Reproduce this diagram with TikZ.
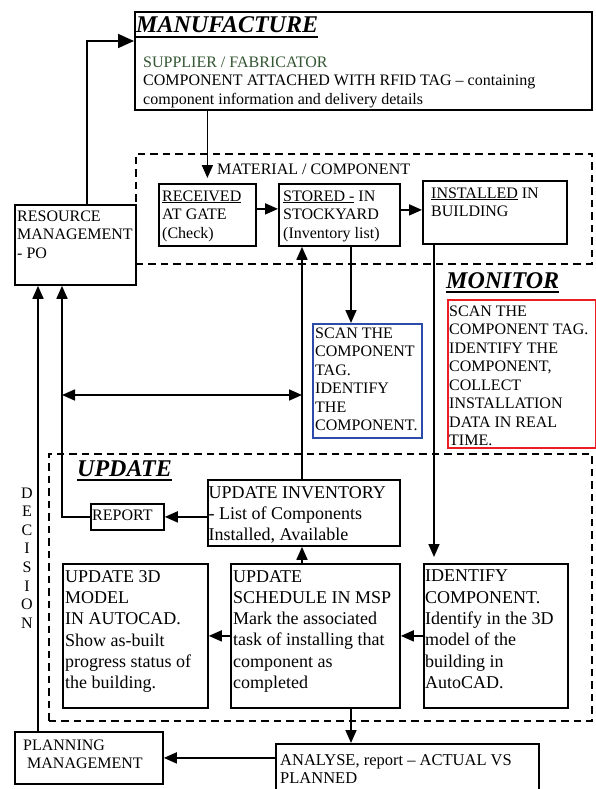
\documentclass[tikz,border=0pt]{standalone}
\usepackage{fontspec}
\setmainfont{Liberation Serif}
\usetikzlibrary{arrows.meta,calc}
\newcommand{\fsA}{\fontsize{16}{18.5}\selectfont}
\newcommand{\fsB}{\fontsize{18}{21.3}\selectfont}
\newcommand{\fsC}{\fontsize{16.5}{18}\selectfont}
\newcommand{\fsT}{\fontsize{24}{28}\selectfont\bfseries\itshape}
\newsavebox{\ulbx}
\newcommand{\ulthin}[1]{\sbox{\ulbx}{#1}\rlap{\rule[-2pt]{\wd\ulbx}{0.9pt}}\usebox{\ulbx}}
\newcommand{\ulthick}[1]{\sbox{\ulbx}{#1}\rlap{\rule[-5pt]{\wd\ulbx}{2.2pt}}\usebox{\ulbx}}
\definecolor{sgreen}{RGB}{50,85,50}
\definecolor{mred}{RGB}{235,30,35}
\definecolor{mblue}{RGB}{45,75,170}
\begin{document}
\begin{tikzpicture}[x=1pt,y=-1pt,
  box/.style={draw, line width=1.8pt, inner sep=0, anchor=north west},
  cbox/.style={draw, line width=1.6pt, inner sep=0, anchor=north west},
  dbox/.style={draw, line width=1.6pt, dash pattern=on 7.5pt off 5pt, inner sep=0, anchor=north west},
  txt/.style={anchor=north west, inner sep=0, align=left, font=\fsA},
  txtb/.style={anchor=north west, inner sep=0, align=left, font=\fsB},
  ttl/.style={anchor=base west, inner sep=0, font=\fsT},
  arr/.style={line width=1.7pt, -{Triangle[length=13pt,width=11pt]}},
  bigarr/.style={line width=1.7pt, -{Triangle[length=16pt,width=14pt]}},
  darr/.style={line width=1.7pt, {Triangle[length=13pt,width=11pt]}-{Triangle[length=13pt,width=11pt]}}
]
\useasboundingbox (0,0) rectangle (596,789);

% ---------- boxes ----------
\node[box, minimum width=457, minimum height=98] (manu) at (134,11) {};
\node[dbox, minimum width=456, minimum height=110] (mat) at (135,153) {};
\node[box, minimum width=97, minimum height=62] (recv) at (158,183) {};
\node[box, minimum width=121, minimum height=62] (stor) at (278,183) {};
\node[box, minimum width=144, minimum height=63] (inst) at (422,180) {};
\node[box, minimum width=121, minimum height=80] (rm) at (14,204) {};
\node[cbox, draw=mblue, minimum width=109, minimum height=114] (blue) at (312,323) {};
\node[cbox, draw=mred, minimum width=148, minimum height=148] (red) at (447,299) {};
\node[dbox, minimum width=543, minimum height=267] (upd) at (48,453) {};
\node[box, minimum width=73, minimum height=26] (report) at (90,503) {};
\node[box, minimum width=192, minimum height=66] (ui) at (207,479) {};
\node[box, minimum width=145, minimum height=144] (m3d) at (62,563) {};
\node[box, minimum width=169, minimum height=144] (sched) at (230,563) {};
\node[box, minimum width=144, minimum height=144] (ident) at (423,563) {};
\node[box, minimum width=148, minimum height=52] (plan) at (14,731) {};
\node[box, minimum width=263, minimum height=60] (anal) at (275,743) {};

% ---------- texts ----------
\node[ttl] (tman) at (136,33) {\ulthick{MANUFACTURE}};
\node[txt] (tsup) at (143,56.5) {\textcolor{sgreen}{SUPPLIER / FABRICATOR}\\COMPONENT ATTACHED WITH RFID TAG – containing\\component information and delivery details};
\node[txt] (tmat) at (217,163.5) {MATERIAL / COMPONENT};
\node[txt] (trecv) at (162,190.5) {\ulthin{RECEIVED}\\AT GATE\\(Check)};
\node[txt] (tstor) at (283,190.5) {\ulthin{STORED -} IN\\STOCKYARD\\(Inventory list)};
\node[txt] (tinst) at (431,187.5) {\ulthin{INSTALLED} IN\\BUILDING};
\node[txt] (trm) at (17,210.5) {RESOURCE\\MANAGEMENT\\- PO};
\node[ttl] (tmon) at (446,288) {\ulthick{MONITOR}};
\node[txt] (tred) at (449,305.5) {SCAN THE\\COMPONENT TAG.\\IDENTIFY THE\\COMPONENT,\\COLLECT\\INSTALLATION\\DATA IN REAL\\TIME.};
\node[txt] (tblue) at (315,327.5) {SCAN THE\\COMPONENT\\TAG.\\IDENTIFY\\THE\\COMPONENT.};
\node[ttl] (tupd) at (77,476) {\ulthick{UPDATE}};
\node[anchor=north, inner sep=0, align=center, font=\fontsize{16}{18.6}\selectfont] (tdec) at (27,487.5) {D\\E\\C\\I\\S\\I\\O\\N};
\node[txt] (trep) at (92,509.5) {REPORT};
\node[txtb] (tui) at (208.5,486) {UPDATE INVENTORY\\- List of Components\\Installed, Available};
\node[txtb] (tm3d) at (65,570) {UPDATE 3D\\MODEL\\IN AUTOCAD.\\Show as-built\\progress status of\\the building.};
\node[txtb] (tsched) at (233,570) {UPDATE\\SCHEDULE IN MSP\\Mark the associated\\task of installing that\\component as\\completed};
\node[txtb] (tident) at (425,570) {IDENTIFY\\COMPONENT.\\Identify in the 3D\\model of the\\building in\\AutoCAD.};
\node[txt] (tplan) at (23,739.5) {PLANNING\\\hspace*{4pt}MANAGEMENT};
\node[anchor=north west, inner sep=0, align=left, font=\fsC] (tanal) at (280,754.5) {ANALYSE, report – ACTUAL VS\\PLANNED};

% ---------- helper columns ----------
\coordinate (kA) at (87,41);
\coordinate (xA) at (302,0);
\coordinate (xB) at (351,0);
\coordinate (xC) at (434,0);
\coordinate (xD) at (38,0);
\coordinate (xE) at (62,0);
\coordinate (dl) at (62,395);
\coordinate (dr) at (302,395);

% ---------- connectors ----------
\draw[bigarr] (rm.north -| kA) -- (kA) -- (manu.west |- kA);
\draw[arr, shorten >=5pt] (manu.south -| recv.north) -- (recv.north);
\draw[arr] ([yshift=6pt]recv.east) -- ([yshift=6pt]recv.east -| stor.west);
\draw[arr] ([yshift=5pt]stor.east) -- ([yshift=5pt]stor.east -| inst.west);
\draw[arr] (ui.north -| xA) -- (stor.south -| xA);
\draw[arr] (stor.south -| xB) -- (blue.north -| xB);
\draw[arr, shorten >=6pt] (inst.south -| xC) -- (ident.north -| xC);
\draw[arr] (sched.north -| xA) -- (ui.south -| xA);
\draw[arr] (sched.south -| xB) -- (anal.north -| xB);
\draw[arr] (ident.west) -- (sched.east);
\draw[arr] (sched.west) -- (m3d.east);
\draw[arr] (ui.west |- report.east) -- (report.east);
\draw[arr] (report.west) -| (rm.south -| xE);
\draw[arr] (plan.north -| xD) -- (rm.south -| xD);
\draw[arr] (anal.west |- plan.east) -- (plan.east);
\draw[darr] (dl) -- (dr);
\end{tikzpicture}
\end{document}
